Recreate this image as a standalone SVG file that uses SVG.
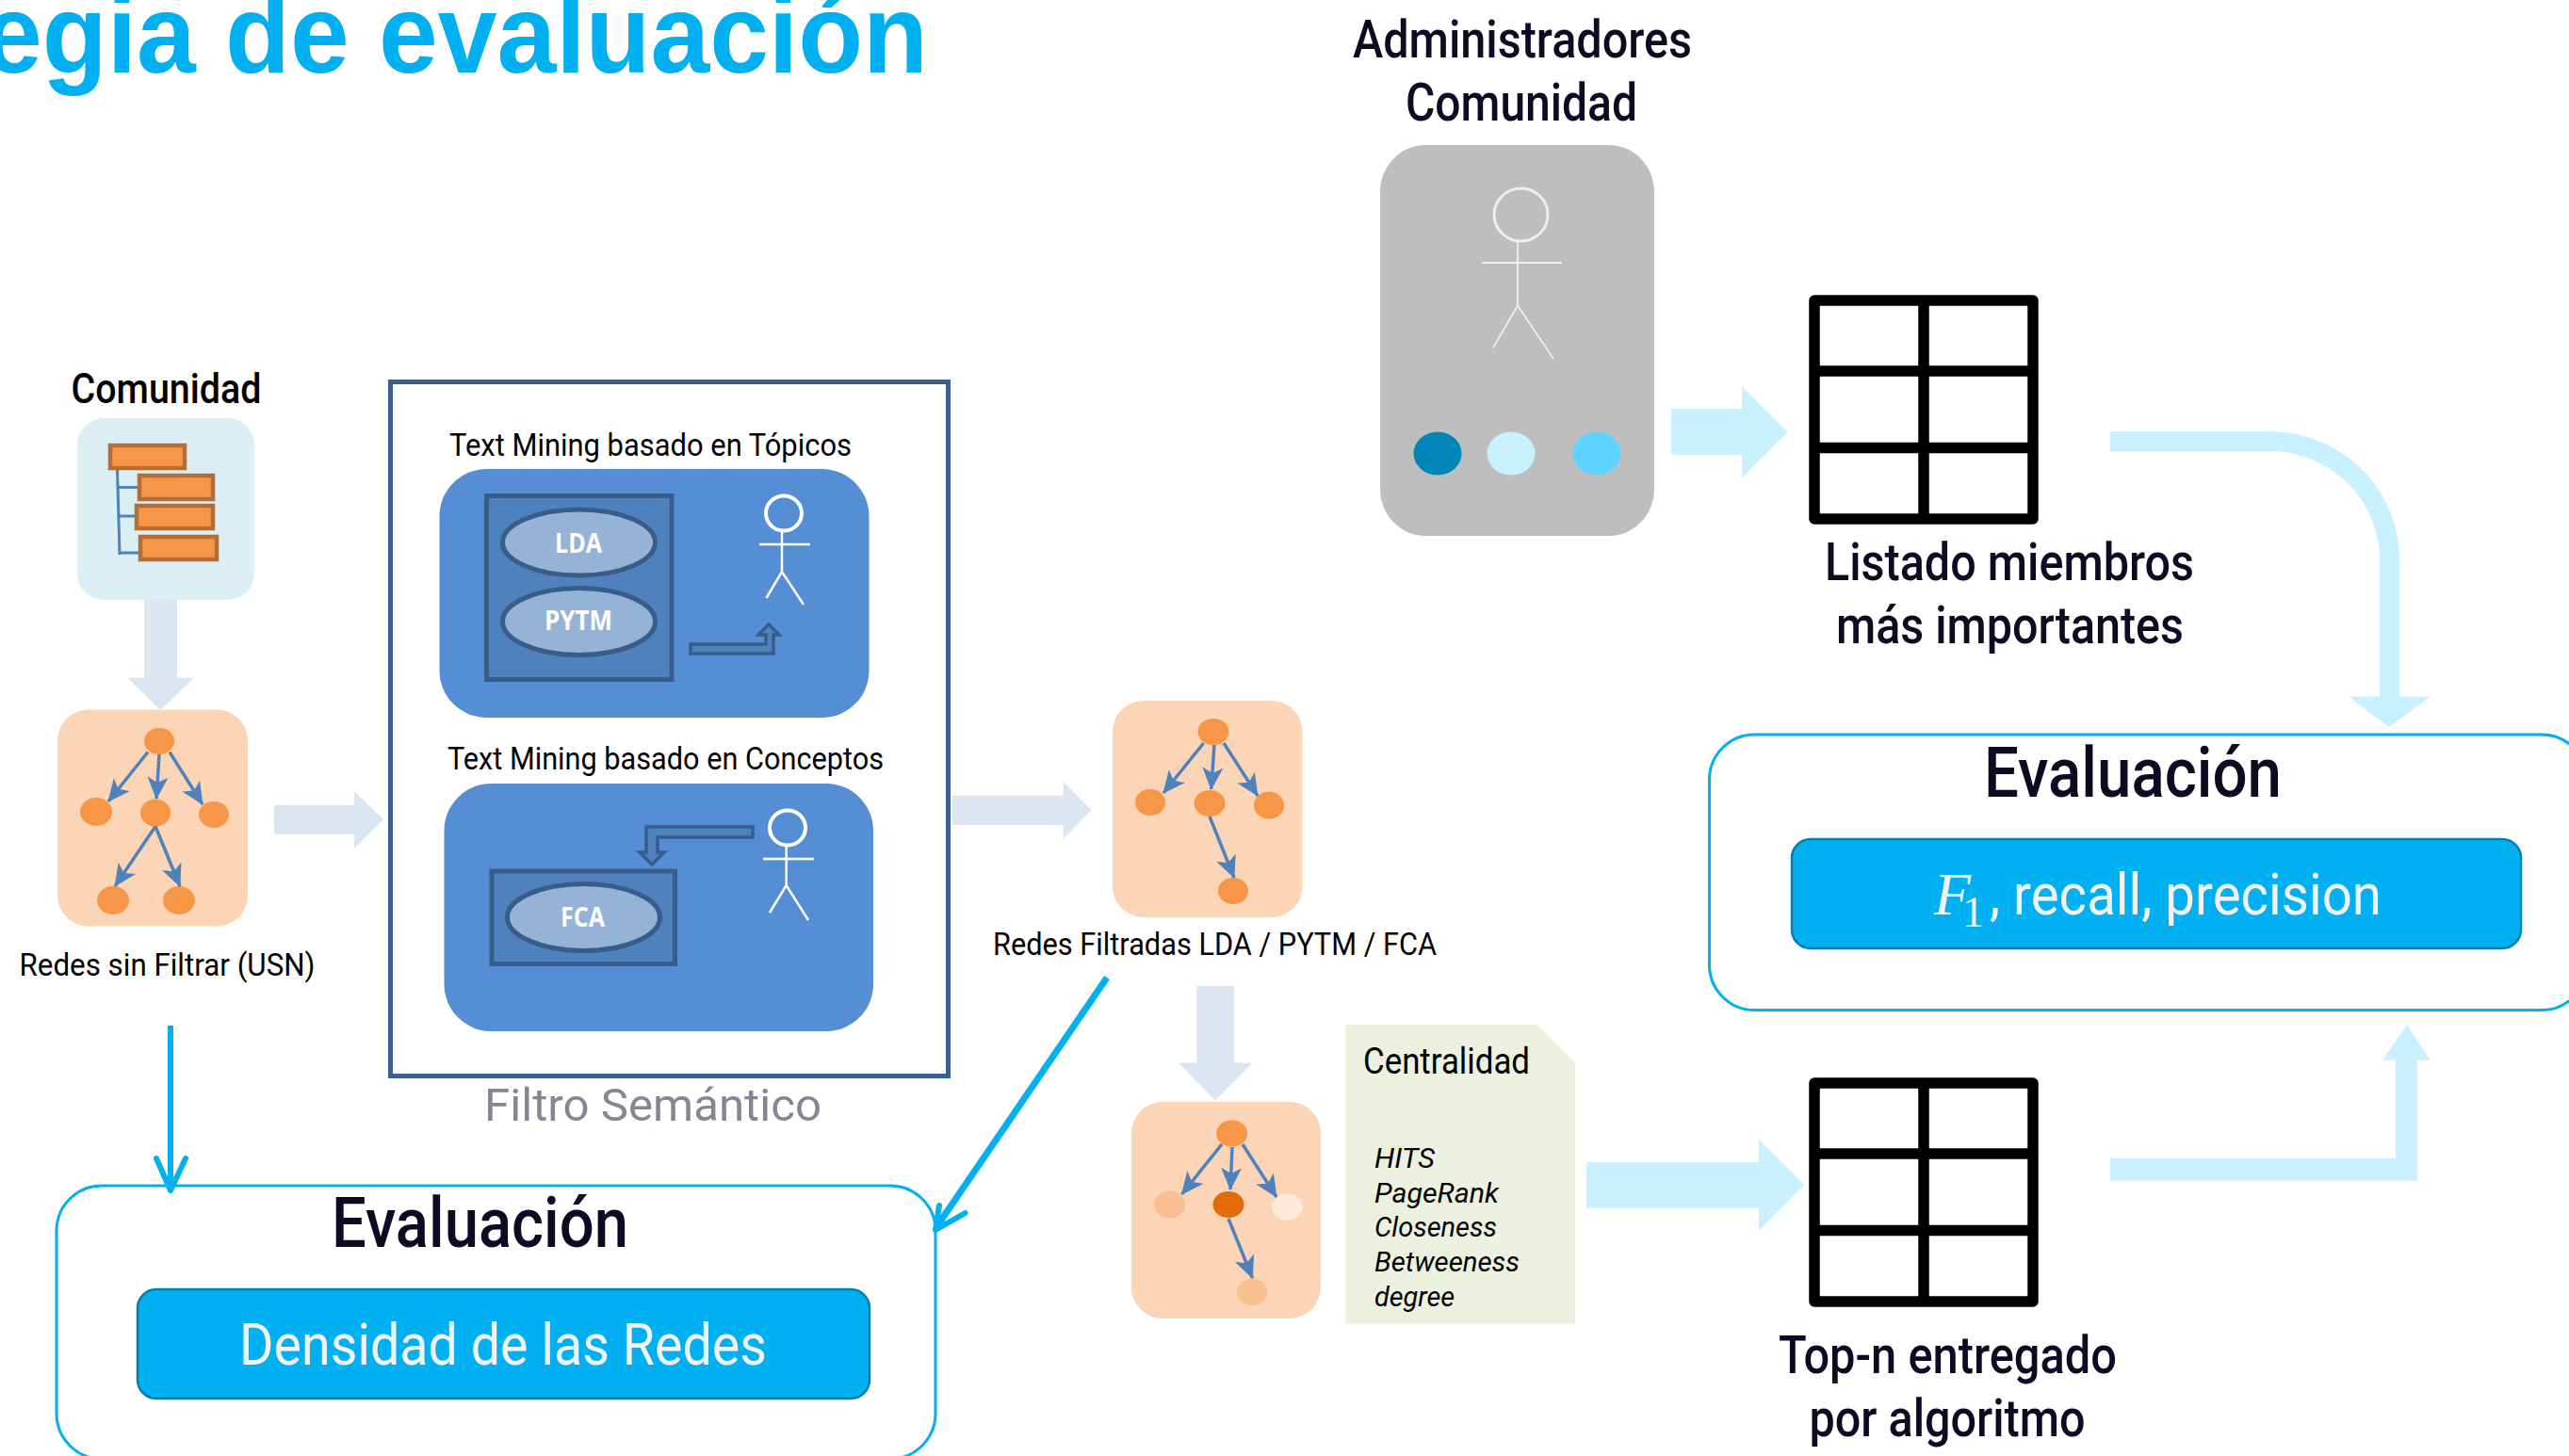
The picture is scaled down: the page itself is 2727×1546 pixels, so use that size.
<svg xmlns="http://www.w3.org/2000/svg" width="2727" height="1546" viewBox="0 0 2727 1546">
<style>
text{font-family:"Roboto","Liberation Sans",sans-serif;fill:#000;font-weight:400}
.big{font-size:56px;fill:#0f0a23;font-weight:500}
.eval{font-size:75px;fill:#0f0a23;font-weight:500}
.btn{font-size:62px;fill:#f2f2f2}
.m{font-size:34px}
.w{font-size:28px;fill:#fff;font-family:"Open Sans",sans-serif;font-weight:700}
.i{font-size:29px;font-style:italic}
.org{fill:#f79646;stroke:#b46d33;stroke-width:4.5}
.peach{fill:#fbd5b5}
.n{fill:#f79646}
.edge{stroke:#4f81bd;stroke-width:3.5;fill:none;marker-end:url(#st)}
.tree{stroke:#4f81bd;stroke-width:3;fill:none}
.blue{fill:#558ed5}
.ir{fill:#4f81bd;stroke:#385d8a;stroke-width:5}
.el{fill:#95b3d7;stroke:#385d8a;stroke-width:5}
.bent{fill:#4f81bd;stroke:#385d8a;stroke-width:3.5}
.pw{stroke:#fff;stroke-width:2.5;fill:none}
.ph{stroke:#fff;stroke-width:4;fill:none}
.tb{fill:#fff;stroke:#000;stroke-width:11.5;stroke-linejoin:round}
.tl{stroke:#000;stroke-width:11.5}
.a1{fill:#dce6f2}
.a2{fill:#c9f0ff}
.ev{fill:#fff;stroke:#00b0f0;stroke-width:3}
.bt{fill:#00b0f0;stroke:#0080aa;stroke-width:2.5}
.cy{stroke:#00b0f0;fill:none;stroke-linejoin:round}
</style>
<defs>
<marker id="st" markerUnits="userSpaceOnUse" markerWidth="26" markerHeight="24" refX="23" refY="11" orient="auto" viewBox="0 0 26 22">
<path d="M0 0L24 11L0 22L6 11Z" fill="#4f81bd"/>
</marker>
</defs>

<rect width="2727" height="1546" fill="#fff"/>

<g id="title">
<text x="-18" y="77" font-size="119" style="font-family:'Liberation Sans',sans-serif;fill:#00b0f0;font-weight:700" textLength="1003" lengthAdjust="spacingAndGlyphs">egia de evaluación</text>
</g>

<g id="comunidad">
<text x="75.500" y="428" font-size="45" textLength="202" lengthAdjust="spacingAndGlyphs" style="font-weight:500">Comunidad</text>
<rect x="82" y="444" width="188" height="193" rx="28" fill="#dbeef4"/>
<path class="tree" d="M124.500 498L127 589M125 517.500H148M126 548H146M127 587H149"/>
<rect class="org" x="117" y="473" width="79" height="24"/>
<rect class="org" x="148" y="505" width="78" height="25"/>
<rect class="org" x="145" y="537" width="81" height="24"/>
<rect class="org" x="149" y="570" width="81" height="24"/>
</g>

<g id="redes-sin-filtrar">
<rect class="peach" x="61" y="753.500" width="202" height="230" rx="33"/>
<ellipse class="n" cx="169" cy="787" rx="16" ry="14"/>
<ellipse class="n" cx="102" cy="862" rx="17" ry="15"/>
<ellipse class="n" cx="165" cy="863" rx="16" ry="14.500"/>
<ellipse class="n" cx="227" cy="865" rx="16" ry="14"/>
<ellipse class="n" cx="120" cy="956" rx="17" ry="15"/>
<ellipse class="n" cx="190" cy="956" rx="17" ry="15"/>
<path class="edge" d="M157 798.500L115 851"/>
<path class="edge" d="M169 801L166 848"/>
<path class="edge" d="M180 798.500L215 854"/>
<path class="edge" d="M165 877.500L122 941"/>
<path class="edge" d="M165 877.500L191 941"/>
<text class="m" x="20.500" y="1036" textLength="314" lengthAdjust="spacingAndGlyphs">Redes sin Filtrar (USN)</text>
</g>

<g id="filtro-semantico">
<rect x="414.500" y="405.500" width="592" height="737" fill="#fff" stroke="#3d5f8f" stroke-width="5"/>
<text x="514" y="1190" font-size="49" style="fill:#858595" textLength="358" lengthAdjust="spacingAndGlyphs">Filtro Semántico</text>
</g>

<g id="topicos">
<text class="m" x="477" y="484" textLength="427" lengthAdjust="spacingAndGlyphs">Text Mining basado en Tópicos</text>
<rect class="blue" x="466.500" y="498" width="456" height="264" rx="50"/>
<rect class="ir" x="516.500" y="526.500" width="196.500" height="195"/>
<ellipse class="el" cx="614.500" cy="576" rx="81" ry="35"/>
<ellipse class="el" cx="614.500" cy="660" rx="81" ry="35.500"/>
<text class="w" x="589" y="587" textLength="50" lengthAdjust="spacingAndGlyphs">LDA</text>
<text class="w" x="578" y="669" textLength="72" lengthAdjust="spacingAndGlyphs">PYTM</text>
<path class="bent" d="M733 684H813V674H805L816 663L827 674H821V694H733Z"/>
<ellipse class="ph" cx="832" cy="545" rx="19" ry="18.500"/>
<path class="pw" d="M830 565V607M806 578H860M813.500 635L830 607L853 642"/>
</g>

<g id="conceptos">
<text class="m" x="475" y="817" textLength="463" lengthAdjust="spacingAndGlyphs">Text Mining basado en Conceptos</text>
<rect class="blue" x="471.500" y="832" width="455.500" height="263" rx="50"/>
<rect class="ir" x="522" y="925" width="194.500" height="98.500"/>
<ellipse class="el" cx="619.500" cy="974" rx="81" ry="35.500"/>
<text class="w" x="595" y="984" textLength="47" lengthAdjust="spacingAndGlyphs">FCA</text>
<path class="bent" d="M799 878H686V905H679L692 918L705 905H698V889H799Z"/>
<ellipse class="ph" cx="836" cy="879" rx="19" ry="18.500"/>
<path class="pw" d="M834.700 899V940M810 912H864M817 969L834.700 940L858 977"/>
</g>

<g id="redes-filtradas">
<rect class="peach" x="1181" y="744" width="201.600" height="230" rx="33"/>
<ellipse class="n" cx="1288" cy="777" rx="16.500" ry="14"/>
<ellipse class="n" cx="1221" cy="852" rx="16" ry="14"/>
<ellipse class="n" cx="1284" cy="853" rx="16.500" ry="14"/>
<ellipse class="n" cx="1347" cy="855" rx="16" ry="14.500"/>
<ellipse class="n" cx="1309" cy="946" rx="16" ry="14"/>
<path class="edge" d="M1277.700 789L1235 842"/>
<path class="edge" d="M1289 791L1285.700 838"/>
<path class="edge" d="M1299 789L1335 845"/>
<path class="edge" d="M1284 867L1310 932"/>
<text class="m" x="1054" y="1014" style="font-size:33px" textLength="471" lengthAdjust="spacingAndGlyphs">Redes Filtradas LDA / PYTM / FCA</text>
</g>

<g id="red-centralidad">
<rect class="peach" x="1201" y="1170" width="201" height="230" rx="33"/>
<ellipse class="n" cx="1307.600" cy="1203.500" rx="16.500" ry="14"/>
<ellipse cx="1241.500" cy="1279" rx="16.500" ry="14.500" fill="#f9bf92"/>
<ellipse cx="1304" cy="1279" rx="16.500" ry="14" fill="#e36c09"/>
<ellipse cx="1366.500" cy="1281.500" rx="16" ry="14" fill="#fdeada"/>
<ellipse cx="1329" cy="1372" rx="16" ry="14" fill="#f9bf8e"/>
<path class="edge" d="M1297 1215L1254.500 1268"/>
<path class="edge" d="M1308 1218L1306 1263"/>
<path class="edge" d="M1319 1215L1355 1271"/>
<path class="edge" d="M1304 1294L1329.500 1357"/>
</g>

<g id="centralidad">
<path d="M1428 1088H1632L1672 1128V1405.500H1428Z" fill="#ebf1de"/>
<text x="1447" y="1140" font-size="38" textLength="177" lengthAdjust="spacingAndGlyphs">Centralidad</text>
<text class="i" x="1459" y="1240" textLength="64" lengthAdjust="spacingAndGlyphs">HITS</text>
<text class="i" x="1459" y="1276.500" textLength="132" lengthAdjust="spacingAndGlyphs">PageRank</text>
<text class="i" x="1459" y="1313" textLength="130" lengthAdjust="spacingAndGlyphs">Closeness</text>
<text class="i" x="1459" y="1350" textLength="154" lengthAdjust="spacingAndGlyphs">Betweeness</text>
<text class="i" x="1459" y="1386.700" textLength="85" lengthAdjust="spacingAndGlyphs">degree</text>
</g>

<g id="administradores">
<text class="big" x="1436" y="61" textLength="360" lengthAdjust="spacingAndGlyphs">Administradores</text>
<text class="big" x="1492" y="128" textLength="246" lengthAdjust="spacingAndGlyphs">Comunidad</text>
<rect x="1465" y="154" width="291" height="415" rx="48" ry="50" fill="#bebebe"/>
<ellipse cx="1614.500" cy="228" rx="28.500" ry="28" fill="none" stroke="#eee" stroke-width="3"/>
<path d="M1611 257V324.500M1573 279H1658M1585 369L1611 324.500L1649 381" fill="none" stroke="#eee" stroke-width="1.800"/>
<ellipse cx="1526" cy="481.500" rx="25.500" ry="23" fill="#0085b8"/>
<ellipse cx="1604" cy="481.500" rx="25.500" ry="23" fill="#c9f0ff"/>
<ellipse cx="1695" cy="481.500" rx="25.500" ry="23" fill="#5fd3ff"/>
</g>

<g id="listado">
<rect class="tb" x="1926" y="319" width="232" height="232"/>
<path class="tl" d="M1926 394H2158M1926 475.500H2158M2042 319V551"/>
<text class="big" x="1937" y="615.500" textLength="392" lengthAdjust="spacingAndGlyphs">Listado miembros</text>
<text class="big" x="1949" y="683.400" textLength="369" lengthAdjust="spacingAndGlyphs">más importantes</text>
</g>

<g id="top-n">
<rect class="tb" x="1926" y="1150" width="232" height="232"/>
<path class="tl" d="M1926 1225H2158M1926 1306.500H2158M2042 1150V1382"/>
<text class="big" x="1888" y="1457.700" textLength="359" lengthAdjust="spacingAndGlyphs">Top-n entregado</text>
<text class="big" x="1920.500" y="1525" textLength="293" lengthAdjust="spacingAndGlyphs">por algoritmo</text>
</g>

<g id="evaluacion-f1">
<rect class="ev" x="1814.500" y="780" width="931.500" height="292.500" rx="48"/>
<text class="eval" x="2106" y="846" textLength="316" lengthAdjust="spacingAndGlyphs">Evaluación</text>
<rect class="bt" x="1902" y="891" width="774" height="116" rx="20"/>
<text style="font-family:'Liberation Serif',serif;fill:#f2f2f2"><tspan x="2053" y="971" font-size="64" font-style="italic">F</tspan><tspan x="2083" y="984" font-size="46">1</tspan></text>
<text class="btn" x="2112" y="971" textLength="416" lengthAdjust="spacingAndGlyphs">, recall, precision</text>
</g>

<g id="evaluacion-densidad">
<rect class="ev" x="60" y="1259" width="933" height="290" rx="48"/>
<text class="eval" x="352" y="1324" textLength="315" lengthAdjust="spacingAndGlyphs">Evaluación</text>
<rect class="bt" x="146" y="1369" width="777" height="116" rx="20"/>
<text class="btn" x="254" y="1449" textLength="560" lengthAdjust="spacingAndGlyphs">Densidad de las Redes</text>
</g>

<g id="connectors">
<polygon class="a1" points="153,637 188,637 188,719.500 206,719.500 170.500,754 135,719.500 153,719.500"/>
<polygon class="a1" points="291,855 376,855 376,840 407,870 376,901 376,885.700 291,885.700"/>
<polygon class="a1" points="1011,845 1128.600,845 1128.600,830 1158.500,860 1128.600,891 1128.600,876 1011,876"/>
<polygon class="a1" points="1270.500,1047 1310,1047 1310,1128.600 1329.500,1128.600 1290,1168.600 1251,1128.600 1270.500,1128.600"/>
<polygon class="a2" points="1774,434 1849,434 1849,410 1897.600,459 1849,507.500 1849,483 1774,483"/>
<polygon class="a2" points="1684,1234 1867,1234 1867,1210 1915,1258 1867,1306.700 1867,1282.700 1684,1282.700"/>
<path d="M2240 468.500H2408C2480 468.500 2536.500 525 2536.500 594V742" fill="none" stroke="#c9f0ff" stroke-width="21"/>
<polygon class="a2" points="2492.500,739.600 2580,739.600 2536,772"/>
<polygon class="a2" points="2240,1230 2543,1230 2543,1125.700 2529,1125.700 2555,1088 2579.600,1125.700 2566,1125.700 2566,1253.700 2240,1253.700"/>
<path class="cy" stroke-width="6" d="M181 1089V1262"/>
<path class="cy" stroke-width="6" stroke-linecap="round" d="M166 1230L181 1264L197 1230"/>
<path class="cy" stroke-width="7" d="M1175 1038L996 1300"/>
<path class="cy" stroke-width="6" stroke-linecap="round" d="M997 1280L993 1306L1024.500 1288"/>
</g>
</svg>
